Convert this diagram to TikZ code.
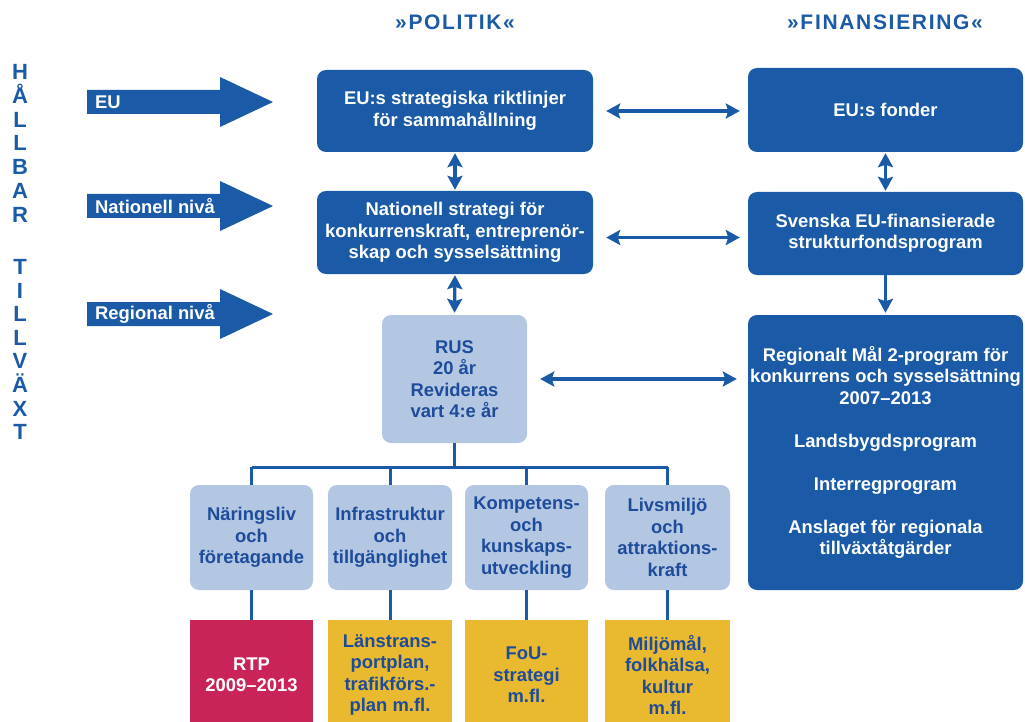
\documentclass[tikz,border=0pt]{standalone}
\usepackage{fontspec}
\setmainfont{Liberation Sans}
\newfontfamily\hdrfont{Liberation Sans}[LetterSpace=8]
\usetikzlibrary{arrows.meta}
\definecolor{dblue}{RGB}{26,90,166}
\definecolor{lblue}{RGB}{179,199,227}
\definecolor{tblue}{RGB}{30,76,154}
\definecolor{rtpred}{RGB}{200,36,88}
\definecolor{ygold}{RGB}{233,185,48}
\begin{document}
\begin{tikzpicture}[x=1pt,y=-1pt,
  base/.style={font=\bfseries\fontsize{18.4}{21.5}\selectfont, align=center, inner sep=0pt},
  darkbox/.style={base, fill=dblue, text=white, rounded corners=9pt},
  lightbox/.style={base, fill=lblue, text=tblue, rounded corners=9pt},
  redbox/.style={base, fill=rtpred, text=white},
  goldbox/.style={base, fill=ygold, text=tblue},
  hdr/.style={font=\hdrfont\bfseries\fontsize{21}{24}\selectfont, text=dblue, inner sep=0pt},
  vlet/.style={font=\bfseries\fontsize{22}{24}\selectfont, text=dblue, inner sep=0pt, text height=15pt, text depth=0pt},
  arrtext/.style={font=\bfseries\fontsize{18.4}{21.5}\selectfont, text=white, inner sep=0pt, anchor=west},
  tip/.tip={Stealth[length=14pt,width=15pt,inset=2.5pt]},
  dbl/.style={draw=dblue, line width=3.2pt, tip-tip},
  sgl/.style={draw=dblue, line width=3.2pt, -tip},
  tree/.style={draw=dblue, line width=3pt}
]
\path[use as bounding box] (0,0) rectangle (1025,722);
\clip (0,0) rectangle (1025,722);
\fill[white] (0,0) rectangle (1025,722);

% headers
\node[hdr] (polh) at (455,22) {»POLITIK«};
\node[hdr] (finh) at (885,22) {»FINANSIERING«};

% vertical letters
\foreach \ch [count=\i] in {H,Å,L,L,B,A,R}
  \node[vlet] (va\i) at (20,{72+(\i-1)*23.8}) {\ch};
\foreach \ch [count=\i] in {T,I,L,L,V,Ä,X,T}
  \node[vlet] (vb\i) at (20,{267+(\i-1)*23.6}) {\ch};

% block arrows
\foreach \c/\nm/\txt in {102/aeu/EU, 206/anat/Nationell nivå, 314/areg/Regional nivå}{
  \fill[dblue] (87,\c-12) -- (220,\c-12) -- (220,\c-25) -- (273,\c) -- (220,\c+25) -- (220,\c+12) -- (87,\c+12) -- cycle;
  \node[arrtext] (\nm) at (95,\c) {\txt};
}

% politik column
\node[darkbox, minimum width=276, minimum height=82] (eustrat) at (455,111) {EU:s strategiska riktlinjer\\för sammahållning};
\node[darkbox, minimum width=276, minimum height=83] (nat) at (455,232.5) {Nationell strategi för\\konkurrenskraft, entreprenör-\\skap och sysselsättning};
\node[lightbox, minimum width=145, minimum height=128] (rus) at (454.5,379) {RUS\\20 år\\Revideras\\vart 4:e år};

% finansiering column
\node[darkbox, minimum width=275, minimum height=84] (eufond) at (885.5,110) {EU:s fonder};
\node[darkbox, minimum width=275, minimum height=83] (sv) at (885.5,233.5) {Svenska EU-finansierade\\strukturfondsprogram};
\node[darkbox, minimum width=275, minimum height=275] (reg) at (885.5,452.5) {Regionalt Mål 2-program för\\konkurrens och sysselsättning\\2007–2013\\[21.5pt]Landsbygdsprogram\\[21.5pt]Interregprogram\\[21.5pt]Anslaget för regionala\\tillväxtåtgärder};

% category boxes
\node[lightbox, minimum width=123, minimum height=105] (c1) at (251.5,537.5) {Näringsliv\\och\\företagande};
\node[lightbox, minimum width=124, minimum height=105] (c2) at (390,537.5) {Infrastruktur\\och\\tillgänglighet};
\node[lightbox, minimum width=123, minimum height=105] (c3) at (526.5,537.5) {Kompetens-\\och\\kunskaps-\\utveckling};
\node[lightbox, minimum width=125, minimum height=105] (c4) at (667.5,537.5) {Livsmiljö\\och\\attraktions-\\kraft};

% bottom boxes
\node[redbox, minimum width=123, minimum height=110] (b1) at (251.5,675) {RTP\\2009–2013};
\node[goldbox, minimum width=124, minimum height=110] (b2) at (390,675) {Länstrans-\\portplan,\\trafikförs.-\\plan m.fl.};
\node[goldbox, minimum width=123, minimum height=110] (b3) at (526.5,675) {FoU-\\strategi\\m.fl.};
\node[goldbox, minimum width=125, minimum height=110] (b4) at (667.5,675) {Miljömål,\\folkhälsa,\\kultur\\m.fl.};

% connectors
\draw[dbl, shorten <=13pt, shorten >=8pt] (eustrat.east) -- (eustrat.east -| eufond.west);
\draw[dbl, shorten <=13pt, shorten >=8pt] ([yshift=-5pt]nat.east) -- ([yshift=-5pt]nat.east -| sv.west);
\draw[dbl, shorten <=13pt, shorten >=11pt] (rus.east) -- (rus.east -| reg.west);
\draw[dbl, shorten <=1pt, shorten >=1pt] (eustrat.south) -- (nat.north);
\draw[dbl, shorten <=1pt, shorten >=2pt] (nat.south) -- (rus.north);
\draw[dbl, shorten <=1pt, shorten >=1pt] (eufond.south) -- (sv.north);
\draw[sgl, shorten >=2pt] (sv.south) -- (reg.north);

\coordinate (tj) at (455,467);
\draw[tree] (rus.south) -- (rus.south |- tj);
\draw[tree] (c1.north |- tj) -- (c4.north |- tj);
\foreach \k in {1,2,3,4}{
  \draw[tree] (c\k.north |- tj) -- (c\k.north);
  \draw[tree] (c\k.south) -- (b\k.north);
}
\end{tikzpicture}
\end{document}
